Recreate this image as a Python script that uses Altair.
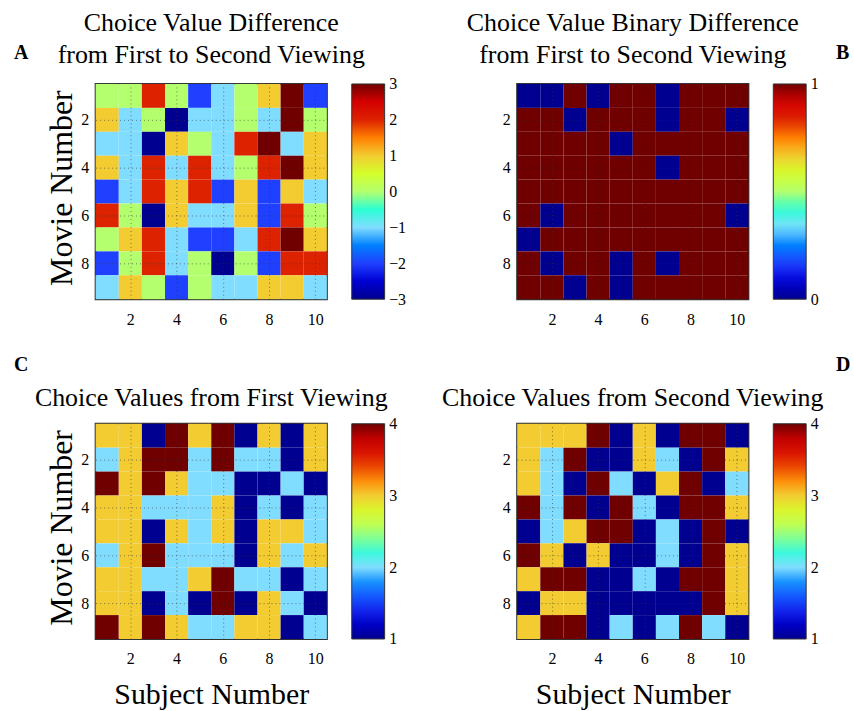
import altair as alt
import pandas as pd

subjects = list(range(1, 11))
movies = list(range(1, 10))

# Rows are movies 1..9 (top to bottom), columns are subjects 1..10
diff_values = [
    [0, 0, 2, 0, -2, -1, 0, 1, 3, -2],
    [1, -1, 0, -3, -1, -1, 0, -1, 3, 0],
    [-1, -1, -3, 1, 0, -1, 2, 3, -1, 1],
    [1, -1, 2, -1, 2, -1, 0, 2, 3, 1],
    [-2, -1, 2, 1, 2, -2, 1, -2, 1, -1],
    [2, 0, -3, 1, -1, -1, 1, -2, 2, 0],
    [0, 1, 2, -1, -2, -2, -1, 2, 3, 1],
    [-2, 0, 2, -1, 0, -3, 0, -2, 2, 2],
    [-1, 1, 0, -2, 0, -1, -1, 1, 1, -1],
]
binary_values = [
    [0, 0, 1, 0, 1, 1, 0, 1, 1, 1],
    [1, 1, 0, 1, 1, 1, 0, 1, 1, 0],
    [1, 1, 1, 1, 0, 1, 1, 1, 1, 1],
    [1, 1, 1, 1, 1, 1, 0, 1, 1, 1],
    [1, 1, 1, 1, 1, 1, 1, 1, 1, 1],
    [1, 0, 1, 1, 1, 1, 1, 1, 1, 0],
    [0, 1, 1, 1, 1, 1, 1, 1, 1, 1],
    [1, 0, 1, 1, 0, 1, 0, 1, 1, 1],
    [1, 1, 0, 1, 0, 1, 1, 1, 1, 1],
]
first_values = [
    [3, 3, 1, 4, 3, 4, 1, 3, 1, 3],
    [2, 3, 4, 4, 2, 4, 2, 2, 1, 3],
    [4, 3, 4, 3, 2, 2, 1, 1, 2, 1],
    [3, 3, 2, 2, 2, 3, 1, 2, 1, 2],
    [3, 3, 1, 3, 2, 3, 1, 3, 3, 2],
    [2, 3, 4, 2, 2, 2, 1, 3, 2, 3],
    [3, 3, 2, 2, 3, 4, 2, 2, 1, 2],
    [3, 3, 1, 2, 1, 4, 1, 3, 2, 1],
    [4, 3, 4, 3, 2, 2, 3, 3, 1, 2],
]
second_values = [
    [3, 3, 3, 4, 1, 3, 1, 4, 4, 1],
    [3, 2, 4, 1, 1, 3, 2, 1, 4, 3],
    [3, 2, 1, 4, 2, 1, 3, 4, 1, 2],
    [4, 2, 4, 1, 4, 2, 1, 4, 4, 3],
    [1, 2, 3, 4, 4, 1, 2, 1, 4, 1],
    [4, 3, 1, 3, 1, 1, 2, 1, 4, 3],
    [3, 4, 4, 1, 1, 2, 1, 4, 4, 3],
    [1, 3, 3, 1, 1, 1, 1, 1, 4, 3],
    [3, 4, 4, 1, 2, 1, 2, 4, 2, 1],
]

x_ticks = [2, 4, 6, 8, 10]
y_ticks = [2, 4, 6, 8]

# jet-like palette, 13 stops
jet_colors = ["#000090", "#0000d4", "#2040ff", "#0080ff", "#80ddff", "#2bffd4",
              "#b3ff6e", "#d4ff2b", "#f2cc30", "#ff8000", "#dd2200", "#d40000",
              "#700000"]

FONT = "Liberation Serif"
W, H = 232, 216
BAR_X, BAR_W = 257, 33


def panel(values, lo, hi, legend_ticks, title, title_offset, letter, letter_x, letter_y,
          x_title, y_title):
    rows = []
    for mi, m in enumerate(movies):
        for si, s in enumerate(subjects):
            rows.append({"subject": s, "movie": m, "value": values[mi][si]})
    df = pd.DataFrame(rows)
    dom = [lo + k * (hi - lo) / 12 for k in range(13)]

    x_axis = alt.Axis(values=x_ticks, title=x_title, grid=True, gridDash=[1, 3],
                      gridColor="#333", gridOpacity=0.6, ticks=False, domain=False,
                      labelPadding=12, labelFont=FONT, labelFontSize=16, labelColor="black",
                      titleFont=FONT, titleFontSize=30, titleFontWeight="normal",
                      titleColor="black", titleY=65, titleBaseline="alphabetic", zindex=1)
    y_axis = alt.Axis(values=y_ticks, title=y_title, grid=True, gridDash=[1, 3],
                      gridColor="#333", gridOpacity=0.6, ticks=False, domain=False,
                      labelPadding=7, labelFont=FONT, labelFontSize=16, labelColor="black",
                      titleFont=FONT, titleFontSize=32, titleFontWeight="normal",
                      titleColor="black", titleX=-24, titleY=H / 2 - 4, titleAngle=-90,
                      titleAlign="center", titleBaseline="alphabetic", zindex=1)

    heat = alt.Chart(df).transform_calculate(
        x0="datum.subject - 0.5", x1="datum.subject + 0.5",
        y0="datum.movie - 0.5", y1="datum.movie + 0.5",
    ).mark_rect(strokeWidth=0).encode(
        x=alt.X("x0:Q", scale=alt.Scale(domain=[0.5, 10.5], nice=False, zero=False), axis=x_axis),
        x2="x1:Q",
        y=alt.Y("y0:Q", scale=alt.Scale(domain=[0.5, 9.5], nice=False, zero=False, reverse=True),
                axis=y_axis),
        y2="y1:Q",
        color=alt.Color("value:Q",
                        scale=alt.Scale(domain=dom, range=jet_colors, interpolate="rgb"),
                        legend=alt.Legend(orient="none", legendX=BAR_X, legendY=0,
                                          direction="vertical", title="",
                                          gradientLength=H, gradientThickness=BAR_W,
                                          gradientStrokeColor="#333", gradientStrokeWidth=1,
                                          values=legend_ticks, labelExpr="''",
                                          labelOpacity=0, padding=0)),
    )

    # colorbar tick labels, drawn as an axis on the colorbar's value scale
    bar_axis = alt.Axis(orient="right", offset=BAR_X + BAR_W - W, values=legend_ticks,
                        format="d", title="", grid=False, ticks=False, domain=False,
                        labelPadding=4, labelFont=FONT, labelFontSize=16,
                        labelColor="black", labelFlush=False)
    bar_labels = alt.Chart(pd.DataFrame({"v": legend_ticks})).mark_point(opacity=0).encode(
        y=alt.Y("v:Q", scale=alt.Scale(domain=[lo, hi], nice=False, zero=False), axis=bar_axis),
    )

    lab = alt.Chart(pd.DataFrame({"letter": [letter]})).mark_text(
        font=FONT, fontSize=20, fontWeight="bold", align="left", baseline="alphabetic",
        color="black",
    ).encode(x=alt.value(letter_x), y=alt.value(letter_y), text="letter:N")

    return alt.layer(heat, bar_labels, lab).resolve_scale(y="independent").properties(
        width=W, height=H,
        title=alt.TitleParams(text=title, font=FONT, fontSize=26, fontWeight="normal",
                              color="black", anchor="middle", frame="group",
                              offset=title_offset, lineHeight=32, baseline="bottom"),
    )


pA = panel(diff_values, -3, 3, [-3, -2, -1, 0, 1, 2, 3],
           ["Choice Value Difference", "from First to Second Viewing"], -51,
           "A", -82, -25, "", "Movie Number")
pB = panel(binary_values, 0, 1, [0, 1],
           ["Choice Value Binary Difference", "from First to Second Viewing"], -51,
           "B", 320, -25, "", "")
pC = panel(first_values, 1, 4, [1, 2, 3, 4],
           "Choice Values from First Viewing", -82,
           "C", -82, -53, "Subject Number", "Movie Number")
pD = panel(second_values, 1, 4, [1, 2, 3, 4],
           "Choice Values from Second Viewing", -82,
           "D", 320, -53, "Subject Number", "")

chart = alt.concat(pA, pB, pC, pD, columns=2).resolve_scale(
    color="independent"
).resolve_legend(
    color="independent"
).properties(
    spacing={"row": 125, "column": 191},
    bounds="flush",
    padding={"left": 13, "top": 8, "right": 2, "bottom": 4},
    background="white",
).configure_view(stroke="#333", strokeWidth=2)

chart.save("out.html", embed_options={"renderer": "svg", "actions": False})
